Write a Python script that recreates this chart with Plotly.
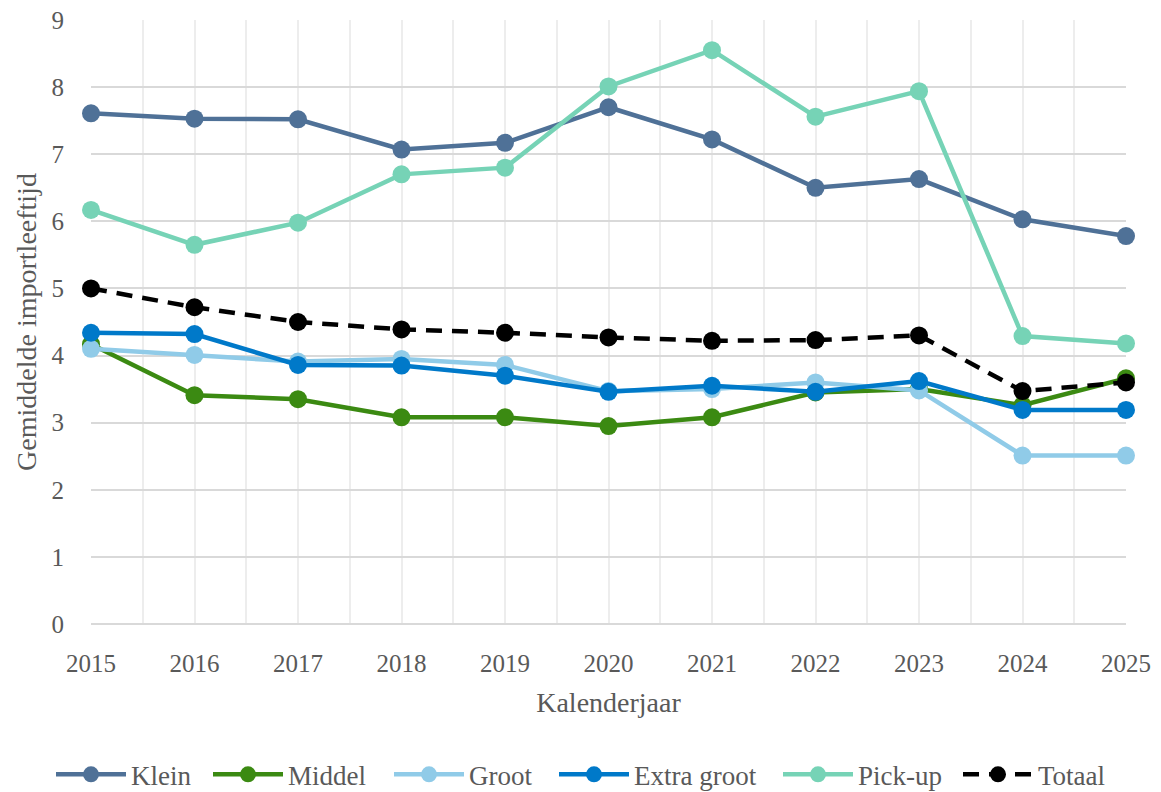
import plotly.graph_objects as go

years = [2015, 2016, 2017, 2018, 2019, 2020, 2021, 2022, 2023, 2024, 2025]
klein = [7.61, 7.53, 7.52, 7.07, 7.17, 7.70, 7.22, 6.50, 6.63, 6.03, 5.78]
middel = [4.17, 3.41, 3.35, 3.08, 3.08, 2.95, 3.08, 3.45, 3.50, 3.26, 3.66]
groot = [4.10, 4.01, 3.91, 3.95, 3.86, 3.47, 3.50, 3.60, 3.48, 2.51, 2.51]
extra_groot = [4.34, 4.32, 3.86, 3.85, 3.70, 3.46, 3.55, 3.46, 3.62, 3.19, 3.19]
pickup = [6.17, 5.65, 5.98, 6.70, 6.80, 8.01, 8.55, 7.56, 7.94, 4.29, 4.18]
totaal = [5.00, 4.72, 4.50, 4.39, 4.34, 4.27, 4.22, 4.23, 4.30, 3.47, 3.60]

series = [
    ("Klein", klein, "#4F7197", "solid"),
    ("Middel", middel, "#3B8A12", "solid"),
    ("Groot", groot, "#90CBE8", "solid"),
    ("Extra groot", extra_groot, "#0079C9", "solid"),
    ("Pick-up", pickup, "#76D3B6", "solid"),
    ("Totaal", totaal, "#000000", "16px,10px"),
]

# left edges (px in the figure) of each legend entry, so entries are spread as in the reference
legend_left_px = [43, 200, 381, 546, 770, 950]

FONT = "Liberation Serif"
W, H = 1153, 784  # page body has an 8px margin
fig = go.Figure()
legend_layout = {}
for i, (name, vals, col, dash) in enumerate(series):
    key = "legend" if i == 0 else f"legend{i + 1}"
    fig.add_trace(go.Scatter(
        x=years, y=vals, name=name, mode="lines+markers",
        line=dict(color=col, width=4.5, dash=dash),
        marker=dict(color=col, size=18),
        cliponaxis=False, legend=key,
    ))
    legend_layout[key] = dict(
        orientation="h", xref="container", x=legend_left_px[i] / W, xanchor="left",
        yref="container", y=0.022, yanchor="middle",
        font=dict(size=27, color="#595959", family=FONT),
        itemwidth=70, bgcolor="rgba(0,0,0,0)",
    )

fig.update_layout(
    width=W, height=H,
    margin=dict(l=83, r=35, t=12, b=168, autoexpand=False),
    paper_bgcolor="white", plot_bgcolor="white",
    font=dict(family=FONT, color="#595959", size=25),
    showlegend=True,
    xaxis=dict(
        range=[2015, 2025], tickvals=years, ticktext=[str(y) for y in years],
        automargin=False, ticklabeloverflow="allow",
        showgrid=True, gridcolor="#EDEDED", gridwidth=1.5,
        minor=dict(dtick=0.5, tick0=2015, showgrid=True, gridcolor="#EDEDED", gridwidth=1.5),
        zeroline=False, showline=False, ticks="", ticklabelstandoff=22,
        title=dict(text="Kalenderjaar", font=dict(size=28, color="#595959"), standoff=16),
    ),
    yaxis=dict(
        range=[0, 9], dtick=1, automargin=False, ticklabeloverflow="allow",
        showgrid=True, gridcolor="#D9D9D9", gridwidth=1.5,
        zeroline=True, zerolinecolor="#D9D9D9", zerolinewidth=1.5,
        showline=False, ticks="", ticklabelstandoff=26,
        title=dict(text="Gemiddelde importleeftijd", font=dict(size=28, color="#595959"), standoff=6),
    ),
    **legend_layout,
)

fig.write_html("out.html")
